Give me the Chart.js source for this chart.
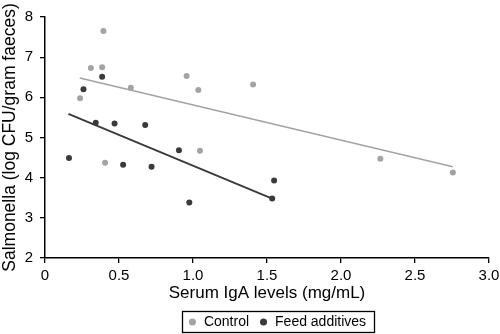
<!DOCTYPE html>
<html>
<head>
<meta charset="utf-8">
<script src="https://cdn.jsdelivr.net/npm/chart.js@4"></script>
<style>
  html, body { margin: 0; padding: 0; background: #fff; }
  #wrap { width: 500px; height: 334px; }
</style>
</head>
<body>
<div id="wrap"><canvas id="salmChart"></canvas></div>
<script>
// valores
const controlX = [0.395, 0.31, 0.386, 0.237, 0.58, 0.957, 1.036, 1.406, 0.406, 1.047, 2.266, 2.756]
const controlY = [7.65, 6.73, 6.75, 5.98, 6.24, 6.53, 6.18, 6.32, 4.37, 4.67, 4.47, 4.13]
const feedX = [0.386, 0.26, 0.343, 0.47, 0.677, 0.162, 0.528, 0.72, 0.905, 0.975, 1.548, 1.535]
const feedY = [6.51, 6.20, 5.37, 5.35, 5.31, 4.49, 4.32, 4.27, 4.68, 3.38, 3.93, 3.48]
// linhas de tendência (extremos)
const controlTrendX = [0.235, 2.756]
const controlTrendY = [6.48, 4.27]
const feedTrendX = [0.158, 1.535]
const feedTrendY = [5.59, 3.48]
const xTicks = ['0', '0.5', '1.0', '1.5', '2.0', '2.5', '3.0']

const pts = (xs, ys) => xs.map((x, i) => ({ x: x, y: ys[i] }))

// legenda com moldura, um pouco deslocada pra direita como no original
const legendBorder = {
    id: 'legendBorder',
    afterLayout(chart) {
        chart.legend.left += 20
    },
    afterDraw(chart) {
        const boxes = chart.legend.legendHitBoxes
        if (!boxes || !boxes.length) return
        const left = Math.min(...boxes.map(b => b.left)) - 6
        const right = Math.max(...boxes.map(b => b.left + b.width)) + 8
        const mid = boxes[0].top + boxes[0].height / 2
        const ctx = chart.ctx
        ctx.save()
        ctx.strokeStyle = '#000'
        ctx.lineWidth = 1.3
        ctx.strokeRect(Math.round(left) + 0.5, Math.round(mid - 11.5) + 0.5, Math.round(right - left), 21)
        ctx.restore()
    }
}

Chart.defaults.font.family = 'Liberation Sans, Arial, sans-serif'
Chart.defaults.color = '#000'

new Chart(document.getElementById('salmChart'), {
    type: 'scatter',
    data: {
        datasets: [
            {
                label: 'Control',
                data: pts(controlX, controlY),
                backgroundColor: '#a3a3a3',
                borderColor: '#a3a3a3',
                pointRadius: 3,
                pointBorderWidth: 0
            },
            {
                label: 'Feed additives',
                data: pts(feedX, feedY),
                backgroundColor: '#3a3a3a',
                borderColor: '#3a3a3a',
                pointRadius: 3,
                pointBorderWidth: 0
            },
            {
                type: 'line',
                label: 'trendControl',
                data: pts(controlTrendX, controlTrendY),
                borderColor: '#a3a3a3',
                borderWidth: 1.5,
                pointRadius: 0,
                showLine: true
            },
            {
                type: 'line',
                label: 'trendFeed',
                data: pts(feedTrendX, feedTrendY),
                borderColor: '#3a3a3a',
                borderWidth: 1.8,
                pointRadius: 0,
                showLine: true
            }
        ]
    },
    options: {
        responsive: true,
        maintainAspectRatio: false,
        animation: false,
        layout: { padding: { top: 17, right: 9, left: 0, bottom: -5 } },
        plugins: {
            tooltip: { enabled: false },
            legend: {
                position: 'bottom',
                fullSize: false,
                labels: {
                    usePointStyle: true,
                    pointStyle: 'circle',
                    boxWidth: 9,
                    boxHeight: 5,
                    padding: 10,
                    font: { size: 14 },
                    filter: item => item.text.indexOf('trend') !== 0
                }
            }
        },
        scales: {
            x: {
                type: 'linear',
                min: 0,
                max: 3,
                afterBuildTicks: scale => {
                    scale.ticks = xTicks.map(t => ({ value: parseFloat(t) }))
                },
                ticks: {
                    font: { size: 15 },
                    padding: 4,
                    callback: (v, i) => xTicks[i]
                },
                grid: { display: true, drawOnChartArea: false, drawTicks: true, tickLength: 5, color: '#000', lineWidth: 1.3 },
                border: { color: '#000', width: 1.5 },
                title: { display: true, text: 'Serum IgA levels (mg/mL)', font: { size: 17 }, padding: { top: 4, bottom: 1 } },
                afterFit: scale => {
                    scale.height = 47
                    scale.paddingRight = 11
                }
            },
            y: {
                min: 2,
                max: 8,
                ticks: { stepSize: 1, font: { size: 15 }, padding: 7 },
                grid: { display: true, drawOnChartArea: false, drawTicks: true, tickLength: 5, color: '#000', lineWidth: 1.3 },
                border: { color: '#000', width: 1.5 },
                title: { display: true, text: 'Salmonella (log CFU/gram faeces)', font: { size: 17.5 }, padding: { top: 0, bottom: 2 } },
                afterFit: scale => { scale.width = 45 }
            }
        }
    },
    plugins: [legendBorder]
})
</script>
</body>
</html>
